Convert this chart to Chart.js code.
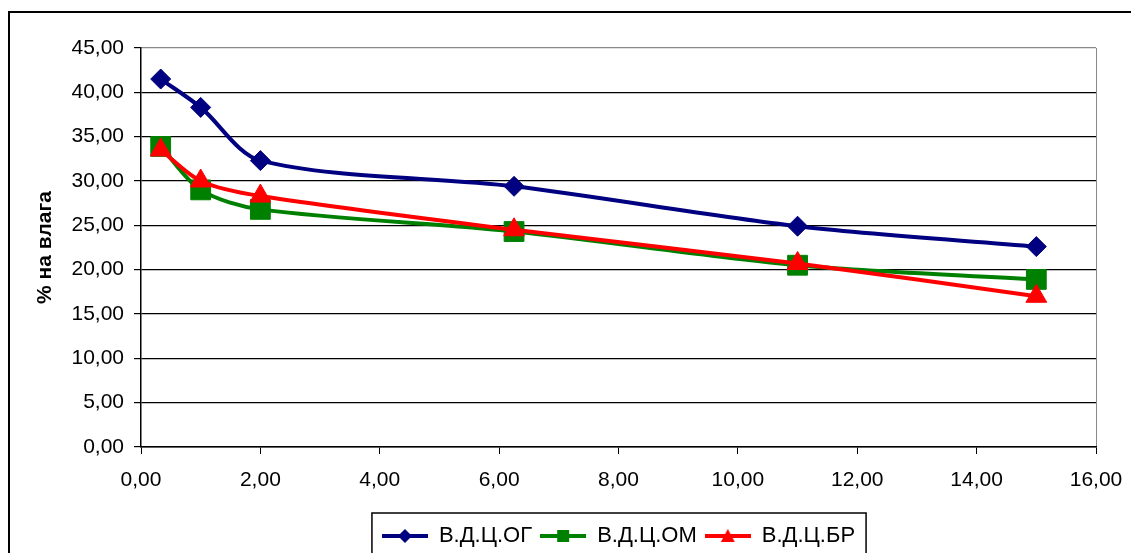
<!DOCTYPE html>
<html>
<head>
<meta charset="utf-8">
<script src="https://cdn.jsdelivr.net/npm/chart.js@4/dist/chart.umd.min.js"></script>
<style>
  html, body { margin: 0; padding: 0; background: #fff; }
  #wrap { width: 1131px; height: 553px; position: relative; }
</style>
</head>
<body>
<div id="wrap"><canvas id="vlagaChart"></canvas></div>
<script>
// values
const xVals = [0.33, 1, 2, 6.25, 11, 15];
const ogVals = [41.5, 38.3, 32.3, 29.4, 24.9, 22.6];
const omVals = [33.9, 29.0, 26.8, 24.3, 20.5, 18.9];
const brVals = [33.5, 30.0, 28.3, 24.5, 20.7, 17.0];
const seriesNames = ['В.Д.Ц.ОГ', 'В.Д.Ц.ОМ', 'В.Д.Ц.БР'];
const seriesColors = ['#000080', '#008000', '#ff0000'];
const yTitle = '% на влага';

Chart.defaults.font.family = "'Liberation Sans', Arial, sans-serif";
Chart.defaults.color = '#000';

const toPts = (vals) => vals.map((v, i) => ({ x: xVals[i], y: v }));
const fmt = (v) => v.toFixed(2).replace('.', ',');

// small line+marker icons for the legend
function makeIcon(color, shape) {
    const c = document.createElement('canvas');
    c.width = 46; c.height = 16;
    const g = c.getContext('2d');
    g.strokeStyle = color; g.fillStyle = color; g.lineWidth = 4;
    g.beginPath(); g.moveTo(0, 8); g.lineTo(46, 8); g.stroke();
    g.beginPath();
    if (shape == 'diamond') {
        g.moveTo(23, 1); g.lineTo(30, 8); g.lineTo(23, 15); g.lineTo(16, 8);
    } else if (shape == 'square') {
        g.rect(17, 2, 12, 12);
    } else {
        g.moveTo(23, 1); g.lineTo(30, 14); g.lineTo(16, 14);
    }
    g.closePath(); g.fill();
    return c;
}
const legendIcons = [
    makeIcon(seriesColors[0], 'diamond'),
    makeIcon(seriesColors[1], 'square'),
    makeIcon(seriesColors[2], 'triangle')
];

const framePlugin = {
    id: 'frame',
    afterDraw(chart) {
        const ctx = chart.ctx;
        ctx.save();
        ctx.strokeStyle = '#000';
        ctx.lineWidth = 2;
        ctx.strokeRect(9, 12, 1140, 560);
        // legend box
        const boxes = chart.legend.legendHitBoxes;
        if (boxes && boxes.length) {
            const first = boxes[0], last = boxes[boxes.length - 1];
            const l = first.left - 10;
            const r = last.left + last.width + 11;
            const t = first.top - 12;
            ctx.lineWidth = 1.5;
            ctx.strokeRect(l, t, r - l, 100);
        }
        ctx.restore();
    }
};

const common = { borderWidth: 4, tension: 0.3, fill: false, pointBorderWidth: 1 };

new Chart(document.getElementById('vlagaChart'), {
    type: 'line',
    data: {
        datasets: [
            { ...common, label: seriesNames[0], data: toPts(ogVals), order: 3,
              borderColor: seriesColors[0], backgroundColor: seriesColors[0],
              pointStyle: 'rectRot', pointRadius: 10, pointHoverRadius: 10 },
            { ...common, label: seriesNames[1], data: toPts(omVals), order: 2,
              borderColor: seriesColors[1], backgroundColor: seriesColors[1],
              pointStyle: 'rect', pointRadius: 14, pointHoverRadius: 14 },
            { ...common, label: seriesNames[2], data: toPts(brVals), order: 1,
              borderColor: seriesColors[2], backgroundColor: seriesColors[2],
              pointStyle: 'triangle', pointRadius: 12, pointHoverRadius: 12 }
        ]
    },
    options: {
        responsive: true,
        maintainAspectRatio: false,
        animation: false,
        layout: { padding: { left: 0, top: 48, right: 35, bottom: -4 } },
        scales: {
            x: {
                type: 'linear',
                min: 0, max: 16,
                ticks: { stepSize: 2, padding: 14, font: { size: 21 }, color: '#000', callback: (v) => fmt(v) },
                grid: {
                    drawOnChartArea: true,
                    tickLength: 7,
                    tickColor: '#000',
                    color: (c) => (c.index === 8 ? '#888' : 'rgba(0,0,0,0)')
                },
                border: { color: '#000', width: 1.5 },
                afterFit: (scale) => {
                    scale.height = 70;
                    scale.paddingLeft = 0;
                    scale.paddingRight = 0;
                }
            },
            y: {
                min: 0, max: 45,
                ticks: { stepSize: 5, padding: 10, font: { size: 21 }, color: '#000', callback: (v) => fmt(v) },
                grid: {
                    tickLength: 7,
                    tickColor: '#000',
                    lineWidth: 1.2,
                    color: (c) => (c.index === 9 ? '#888' : '#000')
                },
                border: { color: '#000', width: 1.5 },
                title: {
                    display: true,
                    text: yTitle,
                    font: { size: 21, weight: 'bold' },
                    color: '#000',
                    padding: { top: 33, bottom: 0 }
                },
                afterFit: (scale) => { scale.width = 141; }
            }
        },
        plugins: {
            legend: {
                position: 'bottom',
                fullSize: false,
                labels: {
                    usePointStyle: true,
                    pointStyleWidth: 46,
                    padding: 8,
                    font: { size: 22 },
                    color: '#000',
                    sort: (a, b) => a.datasetIndex - b.datasetIndex,
                    generateLabels: (chart) =>
                        Chart.defaults.plugins.legend.labels.generateLabels(chart)
                            .map((l) => ({ ...l, pointStyle: legendIcons[l.datasetIndex] }))
                }
            },
            tooltip: { enabled: false }
        }
    },
    plugins: [framePlugin]
});
</script>
</body>
</html>
